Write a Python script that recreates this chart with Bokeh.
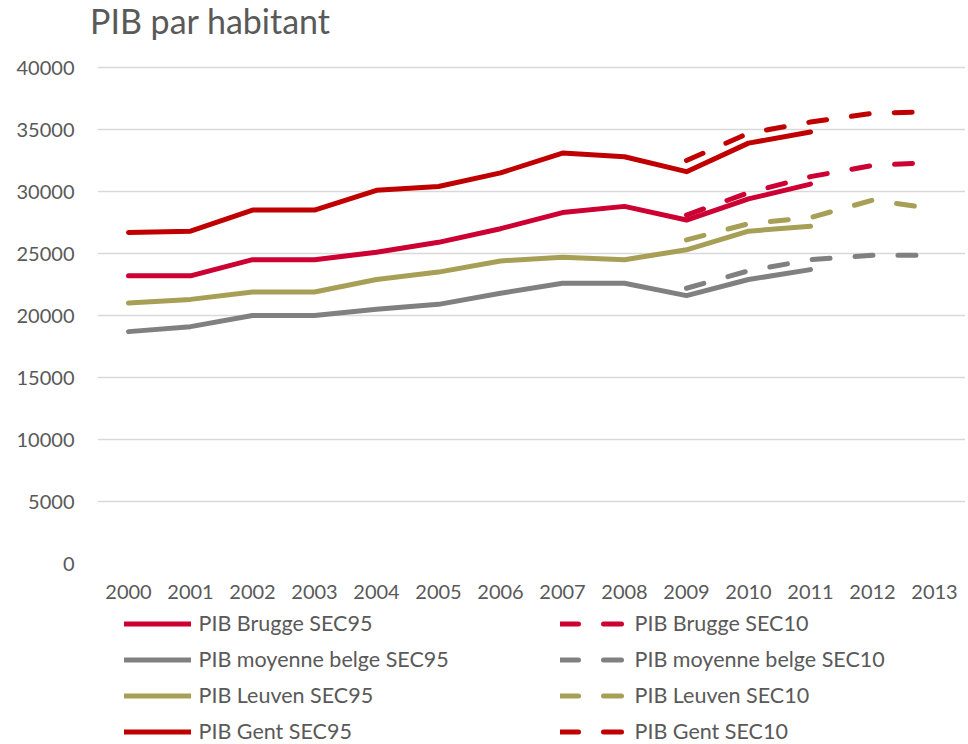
from bokeh.plotting import figure
from bokeh.models import Range1d, FactorRange, Legend, LegendItem, FixedTicker, Div
from bokeh.layouts import column
from bokeh.embed import file_html
from bokeh.resources import INLINE

years = ["2000", "2001", "2002", "2003", "2004", "2005", "2006",
         "2007", "2008", "2009", "2010", "2011", "2012", "2013"]
years95 = years[:12]
years10 = years[9:]
y_ticks = [0, 5000, 10000, 15000, 20000, 25000, 30000, 35000, 40000]

brugge95 = [23200, 23200, 24500, 24500, 25100, 25900, 27000, 28300, 28800, 27700, 29400, 30600]
belge95 = [18700, 19100, 20000, 20000, 20500, 20900, 21800, 22600, 22600, 21600, 22900, 23700]
leuven95 = [21000, 21300, 21900, 21900, 22900, 23500, 24400, 24700, 24500, 25300, 26800, 27200]
gent95 = [26700, 26800, 28500, 28500, 30100, 30400, 31500, 33100, 32800, 31600, 33900, 34800]

brugge10 = [28100, 29900, 31200, 32100, 32350]
belge10 = [22200, 23600, 24500, 24850, 24850]
leuven10 = [26100, 27400, 27900, 29300, 28600]
gent10 = [32500, 34700, 35600, 36300, 36450]

names95 = ["PIB Brugge SEC95", "PIB moyenne belge SEC95", "PIB Leuven SEC95", "PIB Gent SEC95"]
names10 = ["PIB Brugge SEC10", "PIB moyenne belge SEC10", "PIB Leuven SEC10", "PIB Gent SEC10"]
colors = ["#CC0033", "#808080", "#A79F55", "#C00000"]
title_text = "PIB par habitant"

FONT = "Lato"
TXT = "#595959"
DASH = "18 25"
series95 = [brugge95, belge95, leuven95, gent95]
series10 = [brugge10, belge10, leuven10, gent10]

# title
title = Div(text=f'<div style="position:absolute; left:90px; top:4px; white-space:nowrap; '
                 f'font-family:{FONT}; font-size:34px; line-height:34px; color:{TXT};">'
                 f'{title_text}</div>',
            width=965, height=48, margin=0)

# main chart
FRAME_H = 501
PX_PER_UNIT = 496 / 40000
p = figure(x_range=FactorRange(*years, range_padding=0),
           y_range=Range1d(0, FRAME_H / PX_PER_UNIT),
           frame_width=868, frame_height=FRAME_H, min_border_left=97, min_border_right=0,
           min_border_top=14, min_border_bottom=45, margin=0,
           output_backend="svg", toolbar_location=None)

p.outline_line_color = None
p.xgrid.grid_line_color = None
p.ygrid.grid_line_color = "#D9D9D9"
p.ygrid.grid_line_width = 1.5
p.yaxis.ticker = FixedTicker(ticks=y_ticks)
for ax in (p.xaxis, p.yaxis):
    ax.axis_line_color = None
    ax.major_tick_line_color = None
    ax.minor_tick_line_color = None
    ax.major_tick_out = 0
    ax.minor_tick_out = 0
    ax.major_label_text_font = FONT
    ax.major_label_text_font_size = "20px"
    ax.major_label_text_color = TXT
p.yaxis.major_label_standoff = 23
p.xaxis.major_label_standoff = 21

for ys, c in zip(series95, colors):
    p.line(years95, ys, line_color=c, line_width=5, line_join="round", line_cap="round")
for ys, c in zip(series10, colors):
    p.line(years10, ys, line_color=c, line_width=5, line_join="round", line_cap="round",
           line_dash=DASH)

# legend strip below the chart (its series lie outside its 0..1 view, only the legend shows)
lg = figure(width=965, height=136, x_range=FactorRange(*years, range_padding=0),
            y_range=Range1d(0, 1), min_border=0, margin=0,
            output_backend="svg", toolbar_location=None)
lg.axis.visible = False
lg.grid.visible = False
lg.outline_line_color = None

items95, items10 = [], []
for ys, name, c in zip(series95, names95, colors):
    r = lg.line(years95, ys, line_color=c, line_width=5, line_cap="round")
    items95.append(LegendItem(label=name, renderers=[r]))
for ys, name, c in zip(series10, names10, colors):
    r = lg.line(years10, ys, line_color=c, line_width=5, line_cap="round", line_dash=DASH)
    items10.append(LegendItem(label=name, renderers=[r]))


def make_legend(items, x):
    return Legend(items=items, location=(x, 0), orientation="vertical",
                  glyph_width=67, glyph_height=25, label_height=25,
                  label_standoff=8, spacing=10, padding=0, margin=0,
                  label_text_font=FONT, label_text_font_size="21.5px", label_text_color=TXT,
                  border_line_color=None, background_fill_alpha=0)


lg.add_layout(make_legend(items95, 26.5))
lg.add_layout(make_legend(items10, 462.5))

layout = column(title, p, lg, spacing=0, margin=0)
open("out.html", "w").write(file_html(layout, INLINE))
